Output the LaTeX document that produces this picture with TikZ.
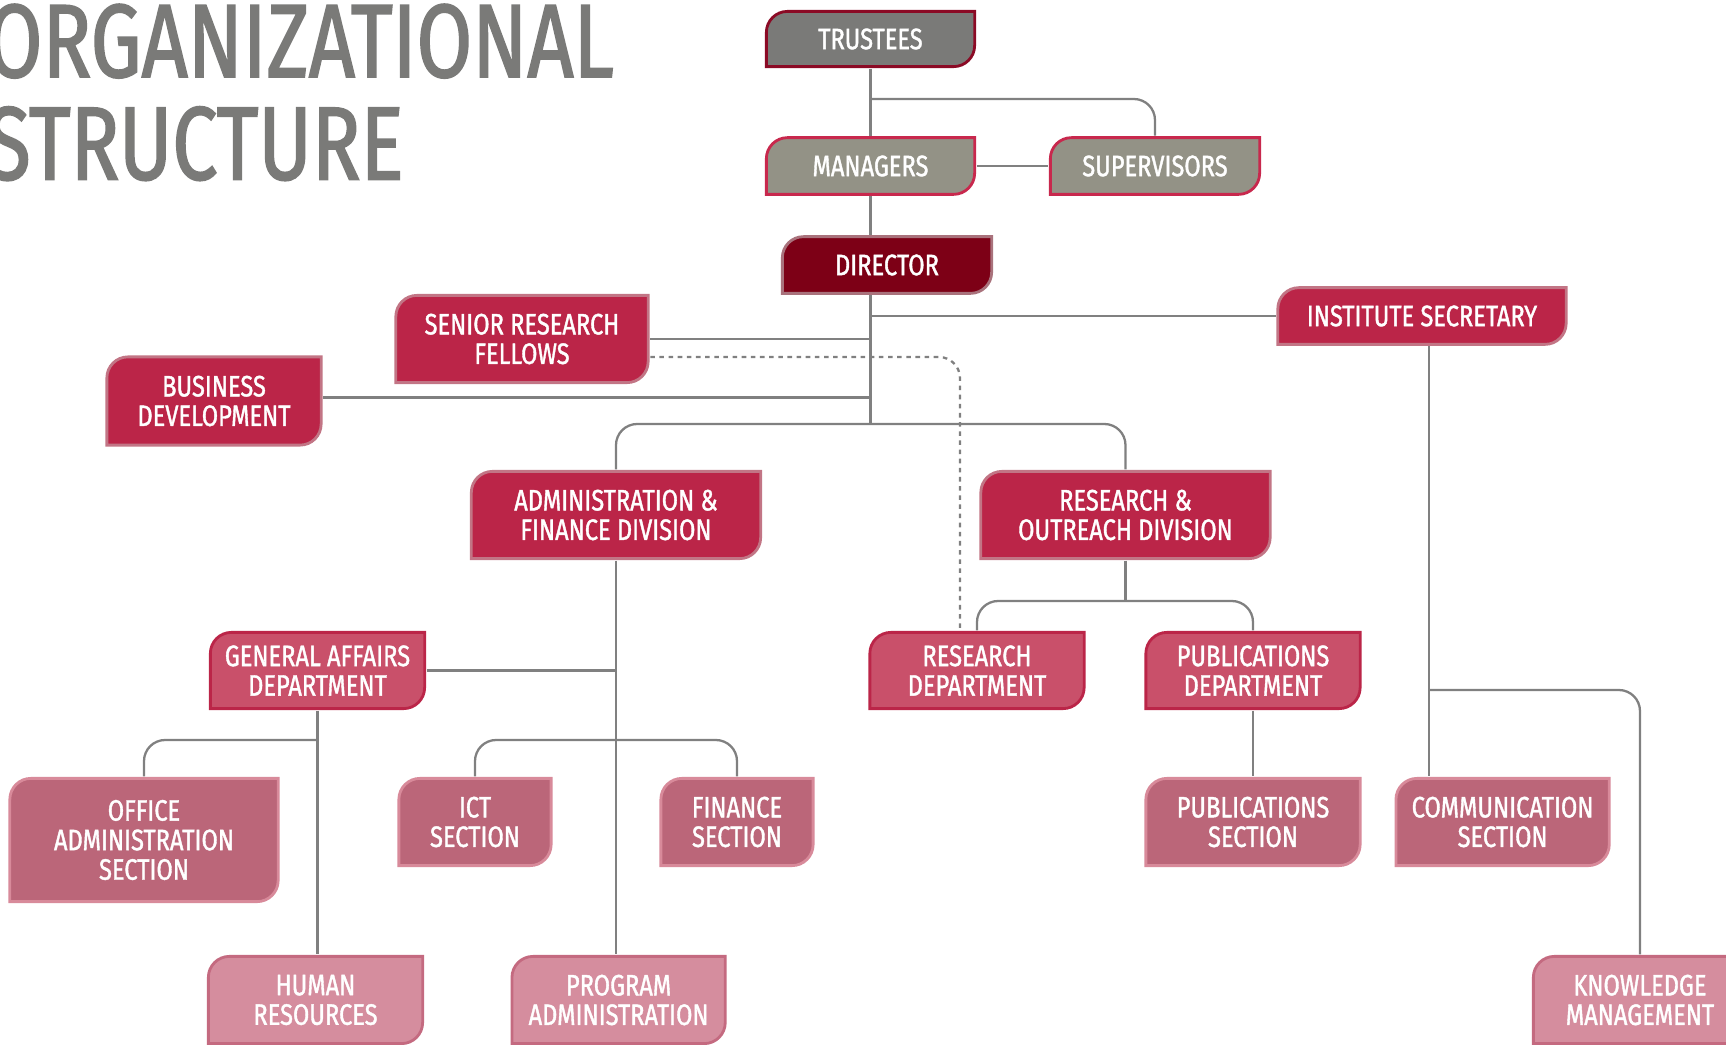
\documentclass[tikz,border=0pt]{standalone}
\usepackage{fontspec}
\usepackage{tikz}
\usepackage{xcolor}
\usetikzlibrary{calc}
\newfontfamily\titlefont{Fira Sans}[FakeStretch=0.775, FakeBold=1.6]
\newfontfamily\boxfont{Fira Sans}[FakeStretch=0.80, FakeBold=1.3]
\definecolor{titlegray}{HTML}{7A7A78}
\definecolor{trustfill}{HTML}{7A7A78}
\definecolor{trustline}{HTML}{8B0A25}
\definecolor{mgrfill}{HTML}{939286}
\definecolor{mgrline}{HTML}{C8284D}
\definecolor{dirfill}{HTML}{7D0016}
\definecolor{dirline}{HTML}{A9727C}
\definecolor{divfill}{HTML}{BB2548}
\definecolor{divline}{HTML}{C27585}
\definecolor{deptfill}{HTML}{C9506A}
\definecolor{deptline}{HTML}{BB2548}
\definecolor{secfill}{HTML}{BB6679}
\definecolor{secline}{HTML}{D88A9A}
\definecolor{unitfill}{HTML}{D58D9E}
\definecolor{unitline}{HTML}{C46A80}
\definecolor{linkgray}{HTML}{808080}

\begin{document}
\begin{tikzpicture}[x=0.01cm, y=-0.01cm,
  orgbox/.style 2 args={rectangle, inner sep=0pt, align=center, text=white, fill=white,
    font=\boxfont\fontsize{8.4}{8.4}\selectfont,
    path picture={
      \draw[fill=#1, draw=#2, line width=0.8pt]
        ([shift={(0.4pt,0.4pt)}]path picture bounding box.south west)
        [rounded corners=6pt] -- ([shift={(0.4pt,-0.4pt)}]path picture bounding box.north west)
        [sharp corners] -- ([shift={(-0.4pt,-0.4pt)}]path picture bounding box.north east)
        [rounded corners=6pt] -- ([shift={(-0.4pt,0.4pt)}]path picture bounding box.south east)
        [sharp corners] -- cycle;
    }},
  title/.style={text=titlegray, inner sep=0pt, font=\titlefont\fontsize{29.6}{30}\selectfont},
  link/.style={draw=linkgray, line width=0.65pt, rounded corners=6pt},
  dashlink/.style={link, dash pattern=on 1.3pt off 1.3pt}]
\useasboundingbox (0,0) rectangle (1726,1045);

% title
\node[title, anchor=base west] (title1) at (-14,77) {ORGANIZATIONAL};
\node[title, anchor=base west] (title2) at (-14,179.5) {STRUCTURE};

% board and director
\node[orgbox={trustfill}{trustline}, minimum width=2.11cm, minimum height=0.58cm] (trustees) at (870.5,39) {TRUSTEES};
\node[orgbox={mgrfill}{mgrline}, minimum width=2.11cm, minimum height=0.595cm] (managers) at (870.5,166) {MANAGERS};
\node[orgbox={mgrfill}{mgrline}, minimum width=2.12cm, minimum height=0.595cm] (supervisors) at (1155,166) {SUPERVISORS};
\node[orgbox={dirfill}{dirline}, minimum width=2.12cm, minimum height=0.595cm] (director) at (887,265) {DIRECTOR};

% divisions and staff
\node[orgbox={divfill}{divline}, minimum width=2.91cm, minimum height=0.595cm] (secretary) at (1422,316) {INSTITUTE SECRETARY};
\node[orgbox={divfill}{divline}, minimum width=2.55cm, minimum height=0.9cm] (fellows) at (522,339) {SENIOR RESEARCH\\FELLOWS};
\node[orgbox={divfill}{divline}, minimum width=2.17cm, minimum height=0.91cm] (business) at (214,401) {BUSINESS\\DEVELOPMENT};
\node[orgbox={divfill}{divline}, minimum width=2.92cm, minimum height=0.9cm] (admin) at (616,515) {ADMINISTRATION \&\\FINANCE DIVISION};
\node[orgbox={divfill}{divline}, minimum width=2.92cm, minimum height=0.9cm] (outreach) at (1125.5,515) {RESEARCH \&\\OUTREACH DIVISION};

% departments
\node[orgbox={deptfill}{deptline}, minimum width=2.17cm, minimum height=0.79cm] (general) at (317.5,670.5) {GENERAL AFFAIRS\\DEPARTMENT};
\node[orgbox={deptfill}{deptline}, minimum width=2.17cm, minimum height=0.79cm] (resdept) at (977,670.5) {RESEARCH\\DEPARTMENT};
\node[orgbox={deptfill}{deptline}, minimum width=2.17cm, minimum height=0.79cm] (pubdept) at (1253,670.5) {PUBLICATIONS\\DEPARTMENT};

% sections
\node[orgbox={secfill}{secline}, minimum width=2.71cm, minimum height=1.26cm] (office) at (144,840) {OFFICE\\ADMINISTRATION\\SECTION};
\node[orgbox={secfill}{secline}, minimum width=1.55cm, minimum height=0.9cm] (ict) at (475,822) {ICT\\SECTION};
\node[orgbox={secfill}{secline}, minimum width=1.55cm, minimum height=0.9cm] (finance) at (737,822) {FINANCE\\SECTION};
\node[orgbox={secfill}{secline}, minimum width=2.17cm, minimum height=0.9cm] (pubsec) at (1253,822) {PUBLICATIONS\\SECTION};
\node[orgbox={secfill}{secline}, minimum width=2.16cm, minimum height=0.9cm] (comm) at (1502.6,822) {COMMUNICATION\\SECTION};

% units
\node[orgbox={unitfill}{unitline}, minimum width=2.17cm, minimum height=0.9cm] (hr) at (315.5,1000) {HUMAN\\RESOURCES};
\node[orgbox={unitfill}{unitline}, minimum width=2.16cm, minimum height=0.9cm] (prog) at (618.6,1000) {PROGRAM\\ADMINISTRATION};
\node[orgbox={unitfill}{unitline}, minimum width=2.16cm, minimum height=0.9cm] (km) at (1640,1000) {KNOWLEDGE\\MANAGEMENT};

% branch points
\coordinate (tsplit) at (870.5,99);
\coordinate (hub) at (870.5,424);
\coordinate (dashturn) at (960,357);
\coordinate (secsplit) at (616,740);
\coordinate (rosplit) at (1125.5,601);
\coordinate (isline) at (1428.8,690);

% connectors
\draw[link] (trustees) -- (managers);
\draw[link] (tsplit) -| (supervisors.north);
\draw[link] (managers) -- (supervisors);
\draw[link] (managers.south) -- (managers.south |- director.north);
\draw[link] (director.south -| hub) -- (hub);
\draw[link] (secretary.west) -- (secretary.west -| hub);
\draw[link] (fellows.east) -- (fellows.east -| hub);
\draw[link] ([yshift=1pt]business.east) -- ([yshift=1pt]business.east -| hub);
\draw[link] (admin.north) |- (hub) -| (outreach.north);
\draw[dashlink] (fellows.east |- dashturn) -| (resdept.north -| dashturn);
\draw[link] (admin.south) -- (admin.south |- prog.north);
\draw[link] (general.east) -- (general.east -| admin.south);
\draw[link] (ict.north) |- (secsplit) -| (finance.north);
\draw[link] (general.south) -- (general.south |- hr.north);
\draw[link] (office.north) |- (general.south |- secsplit);
\draw[link] (outreach.south) -- (rosplit);
\draw[link] (resdept.north) |- (rosplit) -| (pubdept.north);
\draw[link] (pubdept) -- (pubsec);
\draw[link] (secretary.south -| isline) -- (comm.north -| isline);
\draw[link] (isline) -| (km.north);
\end{tikzpicture}
\end{document}
